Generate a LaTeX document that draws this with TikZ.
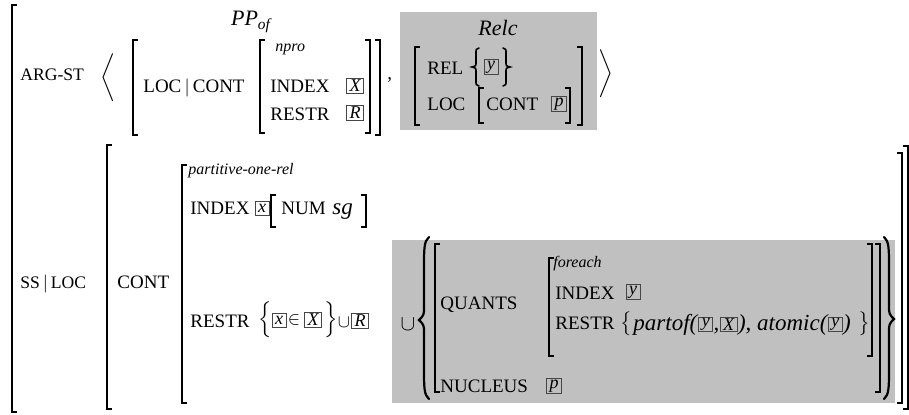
\documentclass[tikz,border=0pt]{standalone}
\usepackage{fontspec}
\setmainfont{Liberation Serif}
\usepackage{xcolor}
\usetikzlibrary{positioning}
\definecolor{avmgray}{RGB}{192,192,192}
\definecolor{tagline}{RGB}{70,70,70}
\delimiterfactor=1000
\delimitershortfall=0pt
\nulldelimiterspace=0pt
% stretchy delimiter of a given total height
\newcommand{\dlim}[2]{$\left#1\vcenter{\hrule height #2 width 0pt}\right.$}
% AVM brackets: x, top, bottom (in px)
\newcommand{\lbr}[3]{\draw[brk] (#1+5,-#2) -- (#1,-#2) -- (#1,-#3) -- (#1+5,-#3);}
\newcommand{\rbr}[3]{\draw[brk] (#1-5,-#2) -- (#1,-#2) -- (#1,-#3) -- (#1-5,-#3);}
% tall set braces: x, top, middle, bottom (in px)
\newcommand{\avmlbrace}[4]{\draw[brc] (#1+4,-#2) .. controls (#1-1,-#2-4) and (#1-1,-#2-12) .. (#1-1,-#2-30)
  -- (#1-1,-#3+14) .. controls (#1-1,-#3+5) .. (#1-6,-#3) .. controls (#1-1,-#3-5) .. (#1-1,-#3-14)
  -- (#1-1,-#4+30) .. controls (#1-1,-#4+12) and (#1-1,-#4+4) .. (#1+4,-#4);}
\newcommand{\avmrbrace}[4]{\draw[brc] (#1-4,-#2) .. controls (#1+1,-#2-4) and (#1+1,-#2-12) .. (#1+1,-#2-30)
  -- (#1+1,-#3+14) .. controls (#1+1,-#3+5) .. (#1+6,-#3) .. controls (#1+1,-#3-5) .. (#1+1,-#3-14)
  -- (#1+1,-#4+30) .. controls (#1+1,-#4+12) and (#1+1,-#4+4) .. (#1-4,-#4);}
% short set braces, same arguments
\newcommand{\avmslbrace}[4]{\draw[sbrc] (#1+3,-#2) .. controls (#1,-#2-1) .. (#1,-#2-5) -- (#1,-#3+5)
  .. controls (#1,-#3+1) .. (#1-4,-#3) .. controls (#1,-#3-1) .. (#1,-#3-5) -- (#1,-#4+5)
  .. controls (#1,-#4+1) .. (#1+3,-#4);}
\newcommand{\avmsrbrace}[4]{\draw[sbrc] (#1-3,-#2) .. controls (#1,-#2-1) .. (#1,-#2-5) -- (#1,-#3+5)
  .. controls (#1,-#3+1) .. (#1+4,-#3) .. controls (#1,-#3-1) .. (#1,-#3-5) -- (#1,-#4+5)
  .. controls (#1,-#4+1) .. (#1-3,-#4);}
\begin{document}
\begin{tikzpicture}[
  x=0.5pt, y=0.5pt,
  feat/.style={anchor=base west, inner sep=0pt, font=\fontsize{9.5}{11}\selectfont},
  topfeat/.style={feat, font=\fontsize{8.8}{10}\selectfont},
  sort/.style={anchor=base west, inner sep=0pt, font=\fontsize{8}{9}\selectfont\itshape},
  val/.style={anchor=base west, inner sep=0pt, font=\fontsize{11.5}{13}\selectfont\itshape},
  lbl/.style={inner sep=0pt, font=\fontsize{11}{13}\selectfont\itshape},
  tag/.style={draw=tagline, line width=0.45pt, inner xsep=1.5pt, inner ysep=0.6pt,
              minimum height=7pt, font=\fontsize{9}{10}\selectfont\itshape},
  dl/.style={inner sep=0pt, font=\fontsize{9.5}{11}\selectfont},
  sym/.style={inner sep=0pt, font=\fontsize{9.5}{11}\selectfont},
  brk/.style={line width=0.9pt},
  brc/.style={line width=1.1pt, line cap=round},
  sbrc/.style={line width=0.8pt, line cap=round},
]
  \useasboundingbox (0,0) rectangle (909,-414);
  \clip (0,0) rectangle (909,-414);

  % Shaded parts
  \fill[avmgray] (400,-12) rectangle (597,-130);
  \fill[avmgray] (392,-240) rectangle (895,-403);

  % Outer matrix
  \lbr{12}{5}{412}

  % ARG-ST list
  \node[topfeat] (argst) at (20,-80) {ARG-ST};
  \node[dl] (lang) at (108,-78) {\dlim{\langle}{22pt}};
  \node[lbl] (ppof) at (251,-22) {PP\textsubscript{of}};
  \lbr{133}{40}{135}
  \node[feat] (loccont) at (143,-92) {LOC\,$|$\,CONT};
  \lbr{260}{40}{133}
  \node[sort] (npro) at (275,-51) {npro};
  \node[feat] (idx1) at (270,-92) {INDEX};
  \node[tag] (tX1) at (355,-86) {X};
  \node[feat] (restr1) at (270,-120) {RESTR};
  \node[tag] (tR1) at (355,-113) {R};
  \rbr{370}{40}{133}
  \rbr{380}{40}{135}
  \node[feat] (comma) at (387,-79) {,};

  \node[lbl] (relc) at (498,-28) {Relc};
  \lbr{415}{47}{125}
  \node[feat] (rel) at (427,-74) {REL};
  \avmslbrace{476}{48}{67}{86}
  \node[tag] (ty1) at (491,-67) {y};
  \avmsrbrace{506}{48}{67}{86}
  \node[feat] (loc1) at (427,-110) {LOC};
  \lbr{479}{88}{123}
  \node[feat] (cont1) at (486,-110) {CONT};
  \node[tag] (tp1) at (559,-104) {p};
  \rbr{570}{88}{123}
  \rbr{582}{47}{125}
  \node[dl] (rang) at (606,-74) {\dlim{\rangle}{22pt}};

  % SS|LOC
  \node[topfeat] (ssloc) at (20,-288) {SS\,$|$\,LOC};
  \lbr{107}{145}{409}
  \rbr{908}{146}{409}
  \node[feat] (cont2) at (117,-288) {CONT};
  \lbr{182}{165}{403}
  \rbr{902}{153}{403}
  \node[sort] (prt) at (188,-174) {partitive-one-rel};
  \node[feat] (idx2) at (190,-214) {INDEX};
  \node[tag] (tx2) at (262,-208) {x};
  \lbr{271}{195}{227}
  \node[feat] (num) at (281,-214) {NUM};
  \node[val] (sg) at (332,-214) {sg};
  \rbr{366}{195}{227}

  \node[feat] (restr2) at (190,-327) {RESTR};
  \node[dl] (sb1) at (265,-320) {\dlim{\{}{15pt}};
  \node[tag] (tx3) at (279,-320) {x};
  \node[sym] (elem) at (294,-320) {$\in$};
  \node[tag] (tX2) at (313,-320) {X};
  \node[dl] (sb2) at (331,-320) {\dlim{\}}{15pt}};
  \node[sym] (cup1) at (344,-322) {$\cup$};
  \node[tag] (tR2) at (360,-321) {R};

  % Quantifier set
  \node[sym, font=\fontsize{11}{13}\selectfont] (cup2) at (408,-324) {$\cup$};
  \avmlbrace{425}{237}{320}{399}
  \lbr{435}{244}{392}
  \node[feat] (quants) at (440,-309) {QUANTS};
  \lbr{549}{258}{356}
  \node[sort] (fe) at (553,-267) {foreach};
  \node[feat] (idx3) at (555,-299) {INDEX};
  \node[tag] (ty2) at (633,-292) {y};
  \node[feat] (restr3) at (555,-329) {RESTR};
  \node[dl] (sb3) at (626,-324) {\dlim{\{}{11pt}};
  \node[val] (po) at (633,-330) {partof(};
  \node[tag, right=0.3pt of po] (ty3) {y};
  \node[val] (cm1) at (ty3.east |- po.base) {,};
  \node[tag, anchor=west] (tX3) at (cm1.east |- ty3.west) {X};
  \node[val] (atm) at (tX3.east |- po.base) {), atomic(};
  \node[tag, anchor=west] (ty4) at (atm.east |- ty3.west) {y};
  \node[val] (cl) at (ty4.east |- po.base) {)};
  \node[dl] (sb4) at (864,-324) {\dlim{\}}{11pt}};
  \rbr{872}{244}{356}
  \rbr{880}{244}{392}
  \avmrbrace{888}{237}{319}{399}
  \node[feat] (nuc) at (440,-392) {NUCLEUS};
  \node[tag] (tp2) at (554,-386) {p};
\end{tikzpicture}
\end{document}
